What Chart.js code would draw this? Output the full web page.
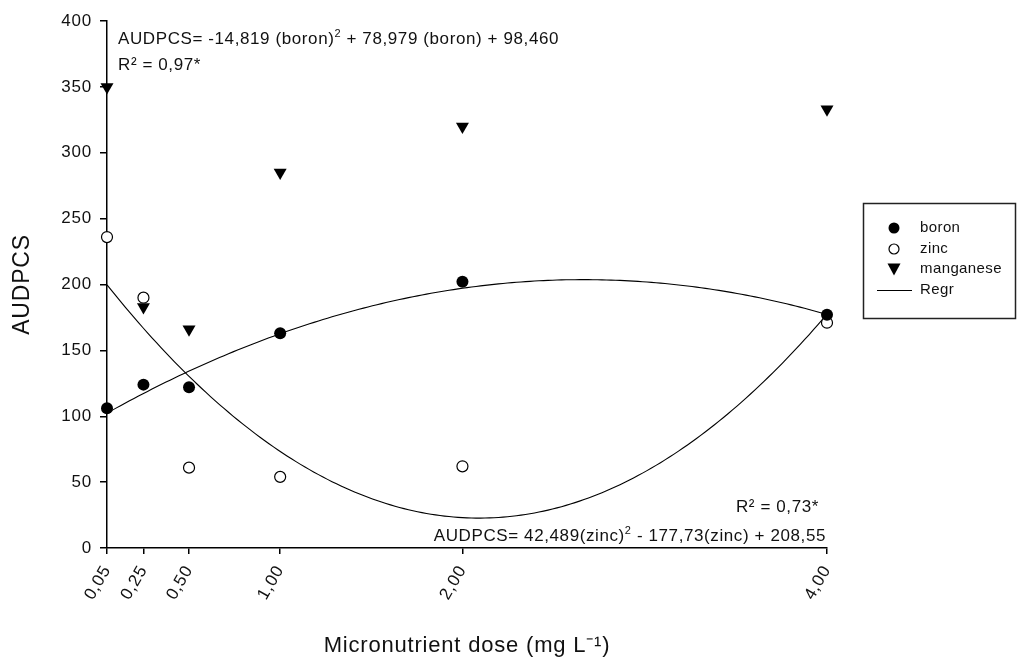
<!DOCTYPE html>
<html>
<head>
<meta charset="utf-8">
<script src="https://cdn.jsdelivr.net/npm/chart.js@4.4.1/dist/chart.umd.min.js"></script>
<style>
  html, body { margin: 0; padding: 0; background: #fff; }
  #wrap { width: 1017px; height: 664px; position: relative; }
</style>
</head>
<body>
<div id="wrap"><canvas id="c"></canvas></div>
<script>
// Micronutrient doses (mg L-1) and AUDPCS means per micronutrient
const doses = [0.05, 0.25, 0.50, 1.00, 2.00, 4.00];
const doseTicks = [0.05, 0.25, 0.50, 1.00, 2.00, 4.00];
const boron = [106, 124, 122, 163, 202, 177];
const zinc = [236, 190, 61, 54, 62, 171];
const manganese = [350, 183, 166, 285, 320, 333];
const yTicks = [0, 50, 100, 150, 200, 250, 300, 350, 400];

// Quadratic regression coefficients [x², x, constant], as printed on the chart
const boronFit = [-14.819, 78.979, 98.460];
const zincFit = [42.489, -177.73, 208.55];

const FONT = '"Liberation Sans", Arial, Helvetica, sans-serif';
const INK = '#111';

function pairs(xs, ys) { return xs.map((x, i) => ({ x: x, y: ys[i] })); }
function curve(c) {
  const pts = [];
  const n = 160;
  for (let i = 0; i <= n; i++) {
    const x = doses[0] + (doses[doses.length - 1] - doses[0]) * i / n;
    pts.push({ x: x, y: c[0] * x * x + c[1] * x + c[2] });
  }
  return pts;
}
function fmtDose(v) { return v.toFixed(2).replace('.', ','); }

// Text runs with optional superscripts
function drawRuns(ctx, runs, x, y, size, align) {
  const sup = Math.round(size * 0.62);
  let total = 0;
  runs.forEach(r => {
    ctx.font = (r.sup ? sup : size) + 'px ' + FONT;
    total += ctx.measureText(r.t).width;
  });
  let cx = align === 'right' ? x - total : x;
  runs.forEach(r => {
    ctx.font = (r.sup ? sup : size) + 'px ' + FONT;
    ctx.fillText(r.t, cx, r.sup ? y - size * 0.42 : y);
    cx += ctx.measureText(r.t).width;
  });
}

// Slightly wider letter spacing for all chart text
const spacing = {
  id: 'spacing',
  beforeLayout(chart) { chart.ctx.letterSpacing = '0.8px'; },
  beforeDraw(chart) { chart.ctx.letterSpacing = '0.8px'; }
};

const annotations = {
  id: 'annotations',
  afterDraw(chart) {
    const ctx = chart.ctx;
    ctx.save();
    ctx.fillStyle = INK;
    ctx.textBaseline = 'alphabetic';
    ctx.textAlign = 'left';
    ctx.letterSpacing = '0.6px';
    drawRuns(ctx, [{ t: 'AUDPCS= -14,819 (boron)' }, { t: '2', sup: true }, { t: ' + 78,979 (boron) + 98,460' }], 118, 44, 17, 'left');
    drawRuns(ctx, [{ t: 'R² = 0,97*' }], 118, 70, 17, 'left');
    drawRuns(ctx, [{ t: 'R² = 0,73*' }], 819, 512, 17, 'right');
    drawRuns(ctx, [{ t: 'AUDPCS= 42,489(zinc)' }, { t: '2', sup: true }, { t: ' - 177,73(zinc) + 208,55' }], 826, 541, 17, 'right');

    // Legend
    const bx = 863, by = 203, bw = 152, bh = 115;
    ctx.lineWidth = 1.5;
    ctx.strokeStyle = '#222';
    ctx.strokeRect(bx + 0.5, by + 0.5, bw, bh);
    const sx = 894, tx = 920;
    const rows = [228, 249, 269, 290];
    ctx.fillStyle = '#000';
    ctx.beginPath(); ctx.arc(sx, rows[0], 5.5, 0, Math.PI * 2); ctx.fill();
    ctx.fillStyle = '#fff'; ctx.lineWidth = 1.2; ctx.strokeStyle = '#000';
    ctx.beginPath(); ctx.arc(sx, rows[1], 5, 0, Math.PI * 2); ctx.fill(); ctx.stroke();
    ctx.fillStyle = '#000';
    ctx.beginPath();
    ctx.moveTo(sx - 6.5, rows[2] - 5.5); ctx.lineTo(sx + 6.5, rows[2] - 5.5); ctx.lineTo(sx, rows[2] + 6.5);
    ctx.closePath(); ctx.fill();
    ctx.lineWidth = 1.2;
    ctx.beginPath(); ctx.moveTo(877, rows[3] + 0.5); ctx.lineTo(912, rows[3] + 0.5); ctx.stroke();
    ctx.fillStyle = INK;
    ctx.textBaseline = 'middle';
    ctx.font = '15px ' + FONT;
    ctx.letterSpacing = '0.4px';
    ['boron', 'zinc', 'manganese', 'Regr'].forEach((t, i) => ctx.fillText(t, tx, rows[i]));
    ctx.restore();
  }
};

new Chart(document.getElementById('c'), {
  type: 'scatter',
  data: {
    datasets: [
      { label: 'boron', data: pairs(doses, boron), pointStyle: 'circle', pointRadius: 6,
        backgroundColor: '#000', borderColor: '#000', borderWidth: 0, order: 1 },
      { label: 'zinc', data: pairs(doses, zinc), pointStyle: 'circle', pointRadius: 5.5,
        backgroundColor: '#fff', borderColor: '#000', borderWidth: 1.2, order: 1 },
      { label: 'manganese', data: pairs(doses, manganese), pointStyle: 'triangle', pointRadius: 7.5,
        rotation: 180, backgroundColor: '#000', borderColor: '#000', borderWidth: 0, order: 1 },
      { label: 'Regr boron', data: curve(boronFit), showLine: true, pointRadius: 0,
        borderColor: '#000', borderWidth: 1.1, fill: false, order: 2 },
      { label: 'Regr zinc', data: curve(zincFit), showLine: true, pointRadius: 0,
        borderColor: '#000', borderWidth: 1.1, fill: false, order: 2 }
    ]
  },
  options: {
    responsive: true,
    maintainAspectRatio: false,
    animation: false,
    clip: false,
    layout: { padding: { top: 21, right: 190, left: 0, bottom: 0 } },
    plugins: { legend: { display: false }, tooltip: { enabled: false } },
    scales: {
      x: {
        type: 'linear',
        min: doses[0],
        max: doses[doses.length - 1],
        afterBuildTicks: s => { s.ticks = doseTicks.map(v => ({ value: v })); },
        afterFit: s => { s.height = 116; },
        ticks: {
          autoSkip: false, minRotation: 60, maxRotation: 60, padding: 8,
          color: INK, font: { family: FONT, size: 17 },
          callback: v => fmtDose(v)
        },
        grid: { drawOnChartArea: false, drawTicks: true, tickLength: 6, color: '#000', lineWidth: 1.5 },
        border: { display: true, color: '#000', width: 1.5 },
        title: {
          display: true, text: 'Micronutrient dose (mg L⁻¹)', color: INK,
          font: { family: FONT, size: 22 }, padding: { top: 0, bottom: 5 }
        }
      },
      y: {
        min: yTicks[0],
        max: yTicks[yTicks.length - 1],
        afterBuildTicks: s => { s.ticks = yTicks.map(v => ({ value: v })); },
        afterFit: s => { s.width = 107; },
        ticks: { padding: 8, color: INK, font: { family: FONT, size: 17 } },
        grid: { drawOnChartArea: false, drawTicks: true, tickLength: 7, color: '#000', lineWidth: 1.5 },
        border: { display: true, color: '#000', width: 1.5 },
        title: {
          display: true, text: 'AUDPCS', color: INK,
          font: { family: FONT, size: 23 }, padding: { top: 9, bottom: 0 }
        }
      }
    }
  },
  plugins: [spacing, annotations]
});
</script>
</body>
</html>
